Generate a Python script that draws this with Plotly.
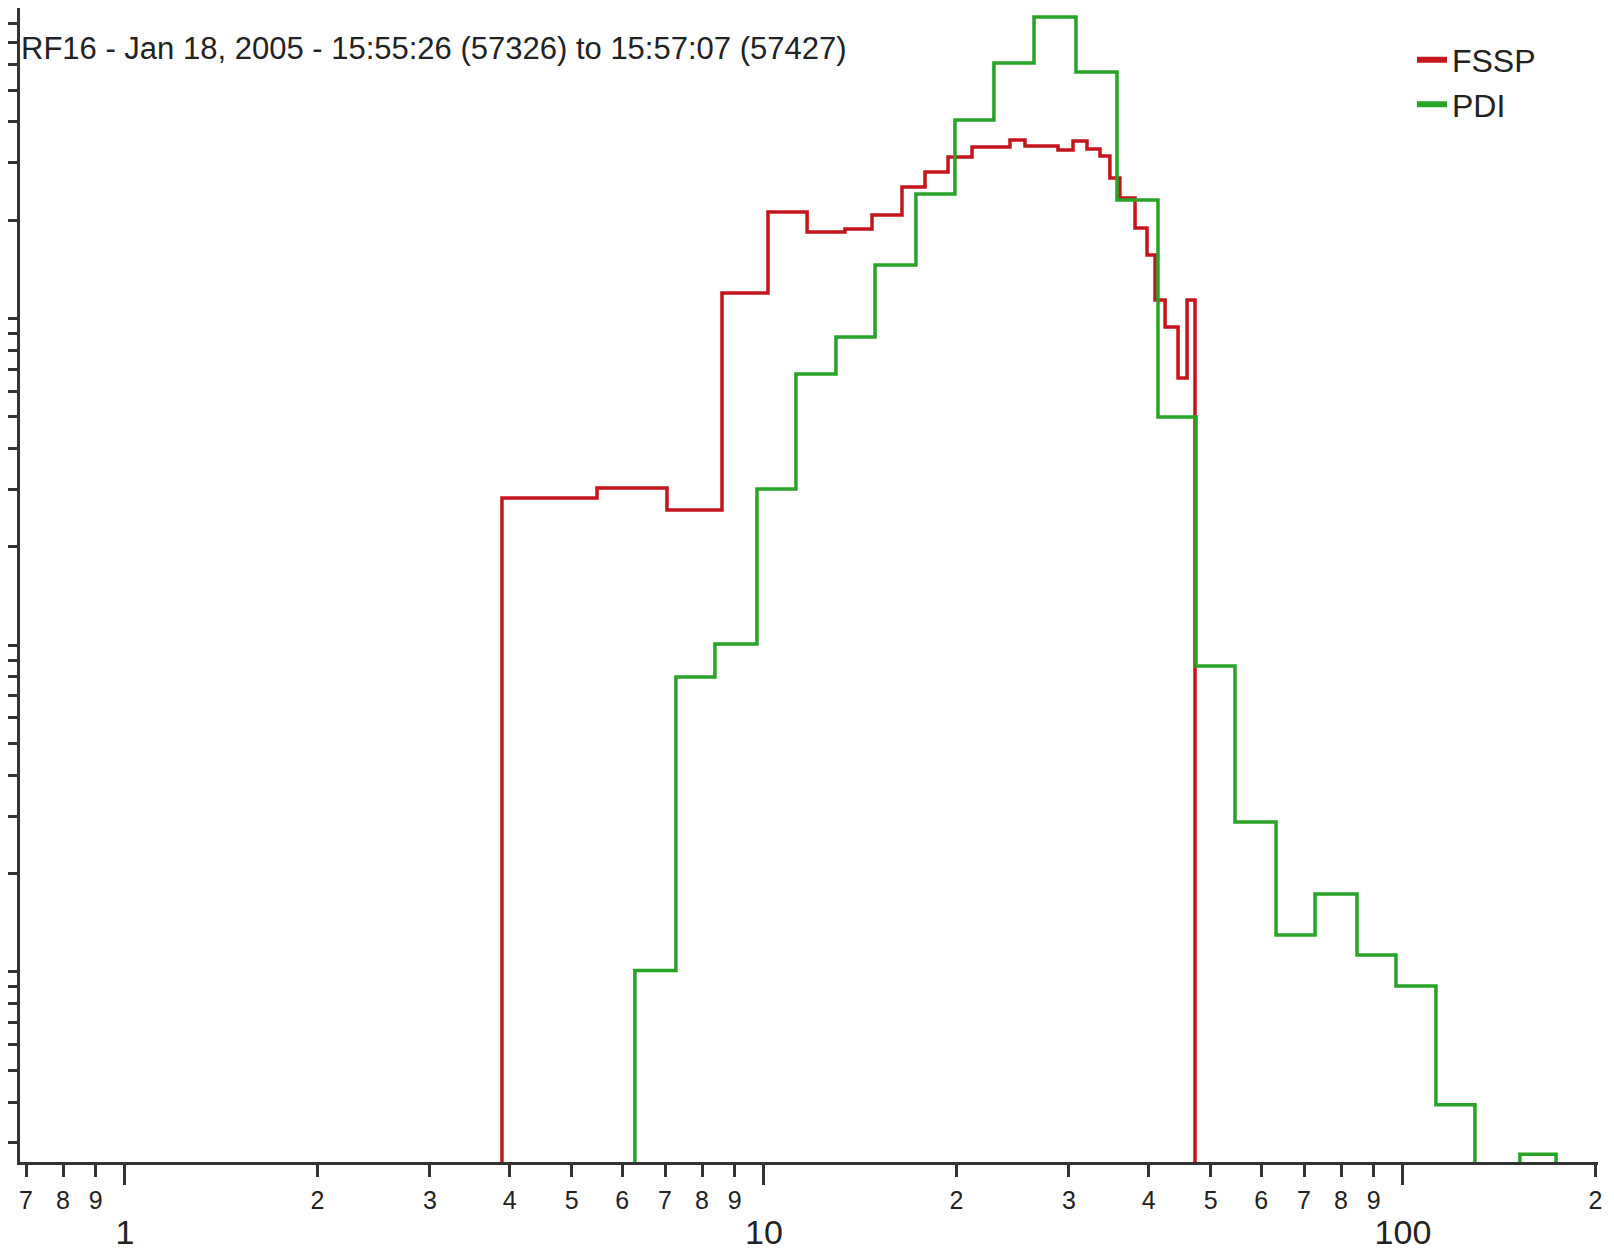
import plotly.graph_objects as go
import numpy as np

# ---------------- data ----------------
title_text = "RF16 - Jan 18, 2005 - 15:55:26 (57326) to 15:57:07 (57427)"

fssp_edges = [3.890, 5.479, 7.050, 8.596, 10.145, 11.680, 13.387, 14.758, 16.443,
              17.864, 19.410, 21.163, 24.265, 25.612, 28.849, 30.451, 32.025,
              33.563, 34.780, 36.055, 38.078, 39.760, 40.925, 42.431, 44.463,
              45.929, 47.263]
fssp_values = [0.2824, 0.3030, 0.2595, 1.197, 2.120, 1.841, 1.881, 2.076, 2.528,
               2.810, 3.124, 3.352, 3.521, 3.376, 3.282, 3.496, 3.305, 3.146,
               2.694, 2.340, 1.894, 1.565, 1.140, 0.943, 0.658, 1.140]

pdi_edges = [6.28, 7.28, 8.38, 9.75, 11.22, 12.96, 14.92, 17.29, 19.90, 22.90,
             26.46, 30.78, 35.68, 41.36, 47.44, 54.59, 63.29, 72.84, 84.73,
             97.50, 112.6, 129.6, 152.4, 173.6]
pdi_values = [0.0101, 0.0800, 0.1009, 0.3009, 0.6768, 0.8784, 1.459, 2.406,
              4.054, 6.058, 8.380, 5.686, 2.307, 0.4997, 0.0864, 0.0288,
              0.01298, 0.01733, 0.01127, 0.00906, 0.00392, 0.0, 0.00277]

x_digit_vals = [0.7, 0.8, 0.9, 2, 3, 4, 5, 6, 7, 8, 9,
                20, 30, 40, 50, 60, 70, 80, 90, 200]
x_digit_text = ["7", "8", "9", "2", "3", "4", "5", "6", "7", "8", "9",
                "2", "3", "4", "5", "6", "7", "8", "9", "2"]
x_major_vals = [1, 10, 100]
x_major_text = ["1", "10", "100"]

y_major_vals = [0.01, 0.1, 1]
y_minor_vals = [k * 10.0 ** e for e in (-3, -2, -1, 0) for k in range(2, 10)]

x_log_range = [-0.1643, 2.3052]
y_log_range = [-2.5816, 0.9507]
floor_value = 1e-5   # zero counts are drawn off the bottom of the log axis

RED = "#c3151b"
GREEN = "#27a327"
AXC = "#333333"
TXT = "#222222"
FONT = "Liberation Sans Narrow, Arial Narrow, Liberation Sans, Arial, sans-serif"


def step_xy(edges, values, floor):
    xs = [edges[0]]
    ys = [floor]
    for e, v in zip(edges[:-1], values):
        xs.append(e)
        ys.append(v if v > 0 else floor)
    xs.append(edges[-1])
    ys.append(floor)
    return xs, ys


fx, fy = step_xy(fssp_edges, fssp_values, floor_value)
px_, py_ = step_xy(pdi_edges, pdi_values, floor_value)

fig = go.Figure()
fig.add_trace(go.Scatter(x=fx, y=fy, mode="lines", name="FSSP", legendgroup="FSSP",
                         showlegend=False,
                         line=dict(color=RED, width=3.5, shape="hv")))
fig.add_trace(go.Scatter(x=px_, y=py_, mode="lines", name="PDI", legendgroup="PDI",
                         showlegend=False,
                         line=dict(color=GREEN, width=3.5, shape="hv")))
# legend entries (thicker sample lines, as in the reference)
fig.add_trace(go.Scatter(x=[None], y=[None], mode="lines", name="FSSP",
                         legendgroup="FSSP", line=dict(color=RED, width=6)))
fig.add_trace(go.Scatter(x=[None], y=[None], mode="lines", name="PDI",
                         legendgroup="PDI", line=dict(color=GREEN, width=6)))
# invisible trace that carries the overlay axis with the decade labels
fig.add_trace(go.Scatter(x=[1.0], y=[0.01], mode="markers",
                         marker=dict(opacity=0), xaxis="x2", showlegend=False,
                         hoverinfo="skip"))

W, H = 1606, 1246   # page body has an 8px margin

fig.update_layout(
    width=W, height=H,
    margin=dict(l=12, r=16, t=0, b=92, autoexpand=False),
    paper_bgcolor="white", plot_bgcolor="white",
    font=dict(family=FONT, color=TXT),
    title=dict(text=title_text, x=13 / W, xanchor="left", xref="container",
               y=1 - 40 / H, yanchor="middle", yref="container",
               font=dict(family=FONT, size=31, color=TXT)),
    showlegend=True,
    legend=dict(x=0.8821, xanchor="left", y=0.9788, yanchor="top",
                bgcolor="rgba(0,0,0,0)", borderwidth=0,
                font=dict(family=FONT, size=32, color=TXT),
                itemwidth=30, tracegroupgap=0),
    xaxis=dict(type="log", range=x_log_range, showgrid=False, zeroline=False,
               automargin=False,
               showline=True, linewidth=3, linecolor=AXC, mirror=False,
               ticks="outside", ticklen=12, tickwidth=2.5, tickcolor=AXC,
               tickmode="array", tickvals=x_digit_vals, ticktext=x_digit_text,
               tickfont=dict(family=FONT, size=25, color=TXT),
               ticklabelstandoff=2),
    xaxis2=dict(type="log", range=x_log_range, overlaying="x", anchor="y",
                side="bottom", automargin=False,
                showgrid=False, zeroline=False, showline=False,
                ticks="outside", ticklen=22, tickwidth=2.5, tickcolor=AXC,
                tickmode="array", tickvals=x_major_vals, ticktext=x_major_text,
                tickfont=dict(family=FONT, size=34, color=TXT),
                ticklabelstandoff=18),
    yaxis=dict(type="log", range=y_log_range, showgrid=False, zeroline=False,
               automargin=False,
               showline=True, linewidth=3, linecolor=AXC,
               ticks="outside", ticklen=20, tickwidth=2.5, tickcolor=AXC,
               tickmode="array", tickvals=y_major_vals, showticklabels=False,
               minor=dict(tickmode="array", tickvals=y_minor_vals, ticks="outside",
                          ticklen=10, tickwidth=2.5, tickcolor=AXC, showgrid=False)),
)

fig.write_html("out.html")
